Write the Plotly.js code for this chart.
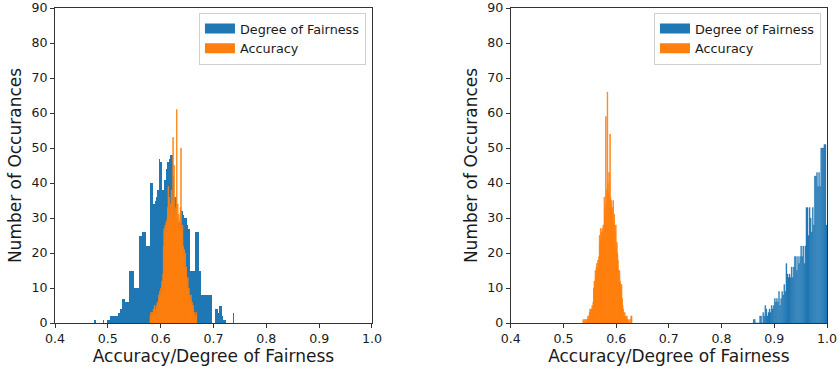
<!DOCTYPE html>
<html>
<head>
<meta charset="utf-8">
<script src="https://cdn.plot.ly/plotly-3.0.1.min.js"></script>
<style>html,body{margin:0;padding:0;background:#fff;}#chart{width:839px;height:370px;}</style>
</head>
<body>
<div id="chart"></div>
<script>
// ---- Data ----
const seriesNames = ["Degree of Fairness", "Accuracy"];
const xTickVals = [0.4, 0.5, 0.6, 0.7, 0.8, 0.9, 1.0];
const yTickVals = [0, 10, 20, 30, 40, 50, 60, 70, 80, 90];

// Left panel – Degree of Fairness histogram
const leftFairStart = 0.4744;
const leftFairWidth = 0.00265;
const leftFairCounts = [
  1,0,0,0,0,0,1,0,0,1,
  1,2,2,2,2,2,2,3,4,4,
  7,7,6,6,6,15,15,15,10,10,
  10,10,25,25,26,26,26,22,22,22,
  40,40,34,35,36,38,47,46,38,38,
  41,44,46,47,48,48,42,36,29,29,
  29,33,32,31,30,30,28,27,15,15,
  15,15,26,26,26,15,8,8,8,8,
  8,8,8,8,0,0,4,4,3,5,
  5,2,1,1,0,0,0,0,0,3
];

// Left panel – Accuracy histogram
const leftAccStart = 0.580;
const leftAccWidth = 0.001;
const leftAccCounts = [
  2,3,1,3,2,3,4,3,5,4,
  3,5,4,6,4,5,8,7,9,8,
  10,8,12,11,14,22,27,24,28,26,
  29,25,30,33,39,31,36,28,34,30,
  38,32,35,53,31,45,30,33,28,36,
  61,30,34,27,31,26,29,33,50,27,
  24,28,22,19,21,17,20,15,16,12,
  10,13,9,10,8,7,6,8,5,6,
  4,5,3,2,3,1,2,3
];

// Right panel – Degree of Fairness histogram
const rightFairStart = 0.860;
const rightFairWidth = 0.002;
const rightFairCounts = [
  1,1,0,0,0,0,2,2,0,3,
  2,5,4,2,3,4,3,5,4,5,
  7,6,7,6,9,5,7,9,8,11,
  9,17,14,13,14,13,16,13,16,19,
  19,15,19,17,19,22,19,22,17,22,
  33,33,25,33,30,26,33,28,42,42,
  43,39,43,39,50,50,50,51,51,28
];

// Right panel – Accuracy histogram
const rightAccStart = 0.537;
const rightAccWidth = 0.001;
const rightAccCounts = [
  1,0,0,1,0,1,0,1,1,2,
  1,2,3,4,3,4,4,5,4,6,
  10,12,11,15,13,16,17,15,18,17,
  19,25,22,27,24,26,27,25,28,26,
  36,33,31,59,34,38,66,40,37,43,
  33,54,36,32,35,30,33,35,29,31,
  28,26,28,22,23,20,18,15,13,15,
  12,11,9,11,7,5,4,3,2,3,
  1,2,1,2,1,0,1,0,0,1,
  0,2,2
];

// ---- Styling ----
const C_BLUE = "#1f77b4";
const C_ORANGE = "#ff7f0e";
const FONT = "DejaVu Sans";

function centers(start, width, counts) {
  return counts.map((_, i) => start + (i + 0.5) * width);
}
function histTrace(start, width, counts, color, xa, ya, edge) {
  return {
    type: "bar",
    x: centers(start, width, counts),
    y: counts,
    width: counts.map(() => width),
    marker: {color: color, line: {width: edge, color: color}},
    xaxis: xa, yaxis: ya,
    showlegend: false,
    hoverinfo: "skip"
  };
}
function legendTrace(name, color, xa, ya, legendId) {
  return {
    type: "scatter", mode: "lines",
    x: [null], y: [null],
    name: name,
    line: {color: color, width: 10},
    xaxis: xa, yaxis: ya,
    legend: legendId,
    showlegend: true,
    hoverinfo: "skip"
  };
}

const data = [
  histTrace(leftFairStart, leftFairWidth, leftFairCounts, C_BLUE, "x", "y", 0),
  histTrace(leftAccStart, leftAccWidth, leftAccCounts, C_ORANGE, "x", "y", 0.7),
  histTrace(rightFairStart, rightFairWidth, rightFairCounts, C_BLUE, "x2", "y2", 0.3),
  histTrace(rightAccStart, rightAccWidth, rightAccCounts, C_ORANGE, "x2", "y2", 0.7),
  legendTrace(seriesNames[0], C_BLUE, "x", "y", "legend"),
  legendTrace(seriesNames[1], C_ORANGE, "x", "y", "legend"),
  legendTrace(seriesNames[0], C_BLUE, "x2", "y2", "legend2"),
  legendTrace(seriesNames[1], C_ORANGE, "x2", "y2", "legend2")
];

const axisLine = "#333";
function xAxis(domain, anchor) {
  return {
    domain: domain, anchor: anchor,
    range: [0.4, 1.0], tickvals: xTickVals, tickformat: ".1f",
    showgrid: false, zeroline: false,
    showline: true, mirror: true, linecolor: axisLine, linewidth: 1,
    ticks: "outside", ticklen: 4, tickwidth: 1, tickcolor: axisLine,
    tickfont: {family: FONT, size: 12.6, color: "#1a1a1a"},
    title: {text: "Accuracy/Degree of Fairness", font: {family: FONT, size: 17, color: "#1a1a1a"}, standoff: 4},
    automargin: false, fixedrange: true
  };
}
function yAxis(anchor) {
  return {
    domain: [0, 1], anchor: anchor,
    range: [0, 90], tickvals: yTickVals,
    showgrid: false, zeroline: false,
    showline: true, mirror: true, linecolor: axisLine, linewidth: 1,
    ticks: "outside", ticklen: 4, tickwidth: 1, tickcolor: axisLine,
    tickfont: {family: FONT, size: 12.6, color: "#1a1a1a"},
    title: {text: "Number of Occurances", font: {family: FONT, size: 17, color: "#1a1a1a"}, standoff: 5},
    automargin: false, fixedrange: true
  };
}
function legendBox(xRight) {
  return {
    x: xRight, xanchor: "right", y: 0.985, yanchor: "top",
    bgcolor: "rgba(255,255,255,0.9)", bordercolor: "#d0d0d0", borderwidth: 1,
    font: {family: FONT, size: 12.8, color: "#1a1a1a"},
    itemwidth: 30, tracegroupgap: 0
  };
}

const layout = {
  width: 839, height: 370,
  margin: {l: 55, r: 12, t: 8, b: 47},
  paper_bgcolor: "#fff", plot_bgcolor: "#fff",
  barmode: "overlay", bargap: 0,
  xaxis: xAxis([0, 0.4106], "y"),
  yaxis: yAxis("x"),
  xaxis2: xAxis([0.5903, 1], "y2"),
  yaxis2: yAxis("x2"),
  legend: legendBox(0.4028),
  legend2: legendBox(0.9922),
  hovermode: false
};

Plotly.newPlot("chart", data, layout, {staticPlot: true, displayModeBar: false});
</script>
</body>
</html>
